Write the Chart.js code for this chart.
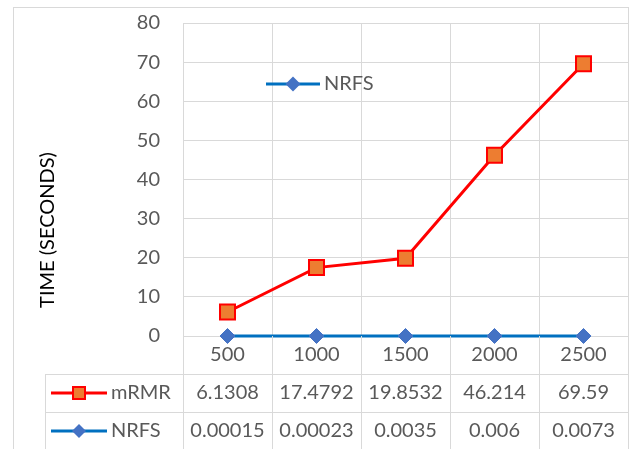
<!DOCTYPE html>
<html>
<head>
<meta charset="utf-8">
<script src="https://cdn.jsdelivr.net/npm/chart.js@4"></script>
<style>
  html, body { margin: 0; padding: 0; background: #ffffff; }
  #wrap { width: 634px; height: 449px; }
</style>
</head>
<body>
<div id="wrap"><canvas id="c" width="634" height="449"></canvas></div>
<script>
// Feature counts on the x axis and run times (seconds) for each method
const categories = ['500', '1000', '1500', '2000', '2500'];
const mrmrTimes = [6.1308, 17.4792, 19.8532, 46.214, 69.59];
const nrfsTimes = [0.00015, 0.00023, 0.0035, 0.006, 0.0073];
const axisTitle = 'TIME (SECONDS)';

const FONT = 'Lato, "Open Sans", sans-serif';
const TEXT = '#595959';
const GRID = '#d9d9d9';

const series = [
  { name: 'mRMR', values: mrmrTimes, line: '#FF0000', fill: '#ED7D31', marker: 'rect' },
  { name: 'NRFS', values: nrfsTimes, line: '#0070C0', fill: '#4472C4', marker: 'diamond' }
];

function drawMarker(ctx, kind, cx, cy, size, s) {
  ctx.save();
  if (kind === 'rect') {
    ctx.fillStyle = s.fill;
    ctx.strokeStyle = s.line;
    ctx.lineWidth = 2;
    ctx.fillRect(cx - size / 2, cy - size / 2, size, size);
    ctx.strokeRect(cx - size / 2, cy - size / 2, size, size);
  } else {
    ctx.fillStyle = s.fill;
    ctx.beginPath();
    ctx.moveTo(cx - size / 2, cy);
    ctx.lineTo(cx, cy - size / 2);
    ctx.lineTo(cx + size / 2, cy);
    ctx.lineTo(cx, cy + size / 2);
    ctx.closePath();
    ctx.fill();
  }
  ctx.restore();
}

function drawKey(ctx, s, x0, x1, y, markerSize) {
  ctx.save();
  ctx.strokeStyle = s.line;
  ctx.lineWidth = 3;
  ctx.beginPath();
  ctx.moveTo(x0, y);
  ctx.lineTo(x1, y);
  ctx.stroke();
  ctx.restore();
  drawMarker(ctx, s.marker, (x0 + x1) / 2, y, markerSize, s);
}

// Frame, data table under the axis, inline legend and the rotated axis title
const tablePlugin = {
  id: 'dataTable',
  afterDraw(chart) {
    const ctx = chart.ctx;
    const xs = chart.scales.x;
    const area = chart.chartArea;
    const half = (xs.getPixelForValue(1) - xs.getPixelForValue(0)) / 2;
    const bottom = chart.height;
    const tableLeft = 45;
    const rowH = 38;
    const headerBottom = area.bottom + rowH;
    const px = v => Math.round(v) + 0.5;

    ctx.save();
    ctx.strokeStyle = GRID;
    ctx.lineWidth = 1;

    // outer frame
    ctx.strokeRect(13.5, 7.5, px(area.right) - 13.5, bottom + 20);

    ctx.beginPath();
    // column separators below the plot
    for (let i = 0; i <= categories.length; i++) {
      const bx = i < categories.length ? xs.getPixelForValue(i) - half : xs.getPixelForValue(i - 1) + half;
      ctx.moveTo(px(bx), area.bottom);
      ctx.lineTo(px(bx), bottom);
    }
    // table left edge and row separators
    ctx.moveTo(px(tableLeft), headerBottom);
    ctx.lineTo(px(tableLeft), bottom);
    for (let r = 0; r < series.length; r++) {
      const y = px(headerBottom + r * rowH);
      ctx.moveTo(px(tableLeft), y);
      ctx.lineTo(px(area.right), y);
    }
    ctx.stroke();

    // header row and values
    ctx.font = '20px ' + FONT;
    ctx.fillStyle = TEXT;
    ctx.textAlign = 'center';
    ctx.textBaseline = 'middle';
    categories.forEach((c, i) => {
      ctx.fillText(c, xs.getPixelForValue(i), area.bottom + rowH / 2);
    });
    series.forEach((s, r) => {
      const cy = headerBottom + r * rowH + rowH / 2;
      s.values.forEach((v, i) => {
        ctx.fillText(String(v), xs.getPixelForValue(i), cy);
      });
    });

    // row keys
    series.forEach((s, r) => {
      const cy = headerBottom + r * rowH + rowH / 2;
      drawKey(ctx, s, 51, 107, cy, s.marker === 'rect' ? 12 : 14);
      ctx.font = '20px ' + FONT;
      ctx.fillStyle = TEXT;
      ctx.textAlign = 'left';
      ctx.textBaseline = 'middle';
      ctx.fillText(s.name, 111, cy);
    });

    // legend inside the plot
    const nrfs = series[1];
    drawKey(ctx, nrfs, 266, 320, 84, 15);
    ctx.font = '20px ' + FONT;
    ctx.fillStyle = TEXT;
    ctx.textAlign = 'left';
    ctx.textBaseline = 'middle';
    ctx.fillText(nrfs.name, 324, 84);

    // y axis title
    ctx.translate(47.5, 230);
    ctx.rotate(-Math.PI / 2);
    ctx.fillStyle = '#000000';
    ctx.textAlign = 'center';
    ctx.fillText(axisTitle, 0, 0);
    ctx.restore();
  }
};

new Chart(document.getElementById('c'), {
  type: 'line',
  data: {
    labels: categories,
    datasets: series.map(s => ({
      label: s.name,
      data: s.values,
      borderColor: s.line,
      borderWidth: 3,
      tension: 0,
      pointStyle: s.marker === 'rect' ? 'rect' : 'rectRot',
      pointRadius: s.marker === 'rect' ? 10.6 : 7.5,
      pointHoverRadius: s.marker === 'rect' ? 10.6 : 7.5,
      pointBackgroundColor: s.fill,
      pointBorderColor: s.marker === 'rect' ? s.line : s.fill,
      pointBorderWidth: s.marker === 'rect' ? 2 : 1,
      clip: false
    }))
  },
  options: {
    responsive: false,
    animation: false,
    devicePixelRatio: 1,
    layout: { autoPadding: false, padding: { left: 0, right: 6, top: 23, bottom: 0 } },
    plugins: { legend: { display: false }, tooltip: { enabled: false } },
    scales: {
      x: {
        type: 'category',
        offset: true,
        grid: { offset: true, color: GRID, lineWidth: 1, drawTicks: false },
        border: { display: false },
        ticks: { display: false },
        afterFit(scale) { scale.height = 113; }
      },
      y: {
        min: 0,
        max: 80,
        grid: { color: GRID, lineWidth: 1, drawTicks: false },
        border: { display: false },
        ticks: {
          stepSize: 10,
          padding: 23,
          color: TEXT,
          font: { family: FONT, size: 20 }
        },
        afterFit(scale) {
          scale.width = 183;
          // tick padding is horizontal only here; keep it out of the vertical layout
          scale.paddingTop = 0;
          scale.paddingBottom = 0;
        }
      }
    }
  },
  plugins: [tablePlugin]
});
</script>
</body>
</html>
